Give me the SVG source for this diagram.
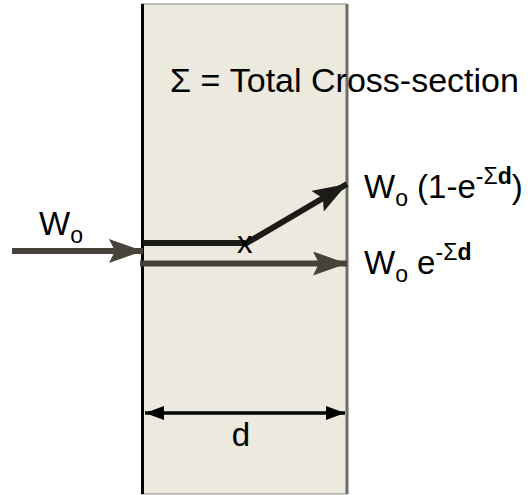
<svg xmlns="http://www.w3.org/2000/svg" width="532" height="495" viewBox="0 0 532 495">
<style>
text{font-family:"Liberation Sans",Arial,sans-serif;fill:#000;}
.big{font-size:33px;}
.sub{font-size:23px;}
.sup{font-size:23px;}
.b{font-weight:bold;}
</style>
<defs>
<marker id="ahd" markerUnits="userSpaceOnUse" markerWidth="36" markerHeight="24" refX="34" refY="12" orient="auto"><path d="M0,0 L34,12 L0,24 L6,12 Z" fill="#47433b"/></marker>
<marker id="ahk" markerUnits="userSpaceOnUse" markerWidth="36" markerHeight="24" refX="34" refY="12" orient="auto"><path d="M0,0 L34,12 L0,24 L6,12 Z" fill="#1c1b18"/></marker>
<marker id="dim" markerUnits="userSpaceOnUse" markerWidth="20" markerHeight="14" refX="19" refY="7" orient="auto-start-reverse"><path d="M0,0 L19,7 L0,14 Z" fill="#000"/></marker>
</defs>
<g id="slab">
<rect x="142" y="4" width="205" height="490" fill="#ECE9DF" stroke="#8c8b86" stroke-width="1"/>
<line x1="142.5" y1="4" x2="142.5" y2="494" stroke="#000" stroke-width="3"/>
<line x1="347" y1="4" x2="347" y2="494" stroke="#6f6e69" stroke-width="3"/>
</g>
<g id="title"><text class="big" x="170" y="92" style="font-size:34px">Σ = Total Cross-section</text></g>
<g id="connectors">
<line x1="12" y1="251" x2="143" y2="251" stroke="#47433b" stroke-width="6" marker-end="url(#ahd)"/>
<line x1="143" y1="243" x2="245" y2="243" stroke="#1c1b18" stroke-width="6"/>
<line x1="245" y1="244" x2="347" y2="184" stroke="#1c1b18" stroke-width="6" marker-end="url(#ahk)"/>
<line x1="140" y1="263.5" x2="347" y2="263.5" stroke="#47433b" stroke-width="6" marker-end="url(#ahd)"/>
<line x1="145" y1="413" x2="345" y2="413" stroke="#000" stroke-width="3.5" marker-start="url(#dim)" marker-end="url(#dim)"/>
</g>
<g id="label-in"><text class="big" x="39" y="235">W<tspan class="sub" dy="8">o</tspan></text></g>
<g id="label-x"><text x="237" y="253" style="font-size:31px">x</text></g>
<g id="label-out1"><text class="big" x="364" y="198">W<tspan class="sub" dy="8">o</tspan><tspan dy="-8"> (1-e</tspan><tspan class="sup" dy="-14">-Σ</tspan><tspan class="sup b">d</tspan><tspan dy="14">)</tspan></text></g>
<g id="label-out2"><text class="big" x="364" y="274">W<tspan class="sub" dy="8">o</tspan><tspan dy="-8"> e</tspan><tspan class="sup" dy="-14">-Σ</tspan><tspan class="sup b">d</tspan></text></g>
<g id="label-d"><text class="big" x="241" y="446" text-anchor="middle">d</text></g>
</svg>
